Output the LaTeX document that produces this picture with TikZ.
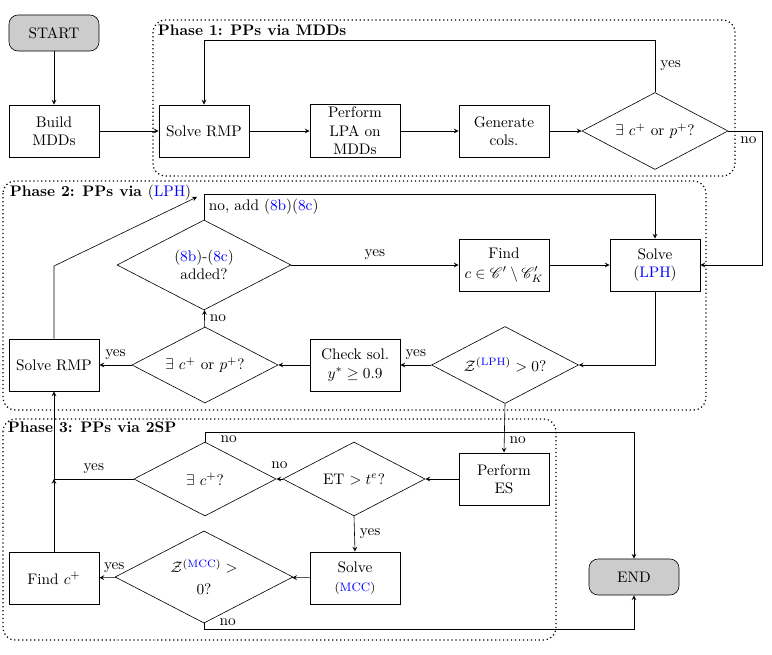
\documentclass[tikz,border=0pt]{standalone}
\usepackage{amsmath,amssymb}
\usepackage{mathrsfs}
\usepackage{xcolor}
\usetikzlibrary{shapes.geometric}
\usetikzlibrary{arrows}
\usetikzlibrary{calc}

\begin{document}
\begin{tikzpicture}[x=0.023cm,y=-0.023cm,>=stealth,
    proc/.style={draw,line width=0.5pt,align=center,inner sep=2pt,
      minimum width=2.07cm,minimum height=1.2cm},
    term/.style={draw,rounded corners=6pt,fill=gray!40,
      minimum width=2.07cm,minimum height=0.83cm},
    decision/.style={draw,diamond,aspect=2,align=center,inner sep=0pt},
    phase/.style={line width=0.8pt,dash pattern=on 0.8pt off 1.8pt,rounded corners=8pt},
    arr/.style={->}]

  \useasboundingbox (0,0) rectangle (772,655);

  % Phase frames
  \draw[phase] (153,20) rectangle (735,176);
  \draw[phase] (3,181) rectangle (706,410);
  \draw[phase] (3,419) rectangle (556,640);
  \node[anchor=north west,font=\bfseries,inner sep=1pt] (ph1) at (156,23) {Phase 1: PPs via MDDs};
  \node[anchor=north west,font=\bfseries,inner sep=1pt] (ph2) at (8,183)
    {Phase 2: PPs via \textmd{(\textcolor{blue}{LPH})}};
  \node[anchor=north west,font=\bfseries,inner sep=1pt] (ph3) at (6,420) {Phase 3: PPs via 2SP};

  % Start and phase 1
  \node[term] (start) at (54,33) {START};
  \node[proc] (mdd) at (54,131) {Build\\MDDs};
  \node[proc] (rmp1) at (204,131) {Solve RMP};
  \node[proc] (lpa) at (355,131) {Perform\\LPA on\\MDDs};
  \node[proc] (gen) at (504,131) {Generate\\cols.};
  \node[decision,minimum width=3.36cm,minimum height=1.77cm] (cp1) at (655,131) {$\exists\ c^+$ or $p^+$?};

  \draw[arr] (start) -- (mdd);
  \draw[arr] (mdd) -- (rmp1);
  \draw[arr] (rmp1) -- (lpa);
  \draw[arr] (lpa) -- (gen);
  \draw[arr] (gen) -- (cp1);
  \draw[arr] (cp1.north) -- node[right]{yes} (655,40) -| (rmp1.north);

  % Phase 2
  \node[proc] (lph) at (655,265) {Solve\\(\textcolor{blue}{LPH})};
  \node[proc] (find) at (504,265) {Find\\[1pt]$c\in\mathscr{C}'\setminus\mathscr{C}'_K$};
  \node[decision,minimum width=4cm,minimum height=2.07cm] (added) at (204,265)
    {(\textcolor{blue}{8b})-(\textcolor{blue}{8c})\\added?};
  \node[decision,minimum width=3.38cm,minimum height=1.77cm] (lphpos) at (505,365)
    {$\mathcal{Z}^{(\textcolor{blue}{\mathrm{LPH}})} > 0$?};
  \node[proc] (check) at (355,365) {Check sol.\\$y^*\geq 0.9$};
  \node[decision,minimum width=3.36cm,minimum height=1.75cm] (cp2) at (205,365) {$\exists\ c^+$ or $p^+$?};
  \node[proc] (rmp2) at (54,365) {Solve RMP};
  \coordinate (back) at (197,197);

  \draw[arr] (cp1.east) -- node[below,pos=0.6]{no} (762,131) |- (lph.east);
  \draw[arr] (added) -- node[above]{yes} (find);
  \draw[arr] (find) -- (lph);
  \draw[arr] (added.north) -- (204,194)
    node[anchor=north west,inner sep=3pt]{no, add (\textcolor{blue}{8b})(\textcolor{blue}{8c})} -| (lph.north);
  \draw[arr] (lph.south) |- (lphpos.east);
  \draw[arr] (lphpos) -- node[above]{yes} (check);
  \draw[arr] (check) -- (cp2);
  \draw[arr] (cp2) -- node[above]{yes} (rmp2);
  \draw[arr] (cp2) -- node[right]{no} (added);
  \draw[arr] (rmp2.north) -- (54,266) -- (back);

  % Phase 3
  \node[proc] (es) at (504,479) {Perform\\ES};
  \node[decision,minimum width=3.27cm,minimum height=1.7cm] (et) at (354,479) {ET $> t^e$?};
  \node[decision,minimum width=3.27cm,minimum height=1.7cm] (ccp) at (205,479) {$\exists\ c^+$?};
  \node[proc] (solmcc) at (355,578) {Solve\\{\footnotesize(\textcolor{blue}{MCC})}};
  \node[decision,minimum width=4.09cm,minimum height=2.12cm] (zmcc) at (204,577)
    {$\mathcal{Z}^{(\textcolor{blue}{\mathrm{MCC}})} >$\\[2pt]0?};
  \node[proc] (findc) at (54,578) {Find $c^+$};
  \node[term] (end) at (634,577) {END};
  \coordinate (join) at (54,479);

  \draw[arr] (lphpos.south) -- node[right,pos=0.75]{no} (es.north);
  \draw[arr] (es) -- (et);
  \draw[arr] (et) -- node[above,yshift=3pt]{no} (ccp);
  \draw[arr] (ccp.north) -- (205,432) node[below right,inner sep=2pt,xshift=8pt]{no} -| (end.north);
  \draw (ccp.west) -- node[above]{yes} (join);
  \draw[arr] (findc.north) -- (join);
  \draw[arr] (join) -- (rmp2.south);
  \draw[arr] (et.south) -- node[right]{yes} (solmcc.north);
  \draw[arr] (solmcc) -- (zmcc);
  \draw[arr] (zmcc) -- node[above,pos=0.1]{yes} (findc);
  \draw[arr] (zmcc.south) -- (204,629) node[above right,inner sep=2pt,xshift=8pt]{no} -| (end.south);

\end{tikzpicture}
\end{document}
